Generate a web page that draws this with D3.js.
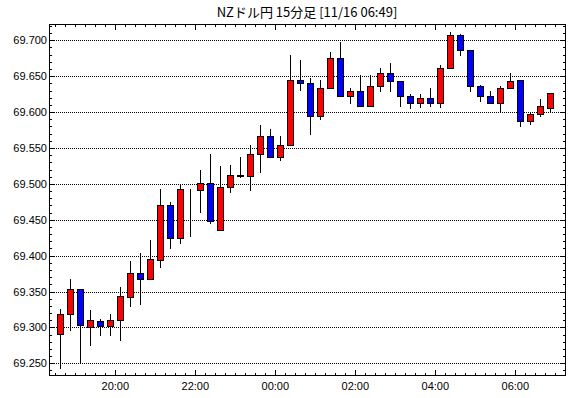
<!DOCTYPE html>
<html>
<head>
<meta charset="utf-8">
<script src="https://cdn.jsdelivr.net/npm/d3@7"></script>
<style>
  body { margin: 0; background: #fff; }
  text { font-family: "Liberation Sans", Arial, sans-serif; }
</style>
</head>
<body>
<div id="vizcontainer"></div>
<script>
const width = 570,
  height = 398;

// 15 min candles, 11/15 18:30 -> 11/16 06:45
const times = [
  "18:30", "18:45", "19:00", "19:15", "19:30", "19:45", "20:00", "20:15", "20:30", "20:45",
  "21:00", "21:15", "21:30", "21:45", "22:00", "22:15", "22:30", "22:45", "23:00", "23:15",
  "23:30", "23:45", "00:00", "00:15", "00:30", "00:45", "01:00", "01:15", "01:30", "01:45",
  "02:00", "02:15", "02:30", "02:45", "03:00", "03:15", "03:30", "03:45", "04:00", "04:15",
  "04:30", "04:45", "05:00", "05:15", "05:30", "05:45", "06:00", "06:15", "06:30", "06:45"
];
const opens = [
  69.291, 69.319, 69.354, 69.301, 69.309, 69.302, 69.310, 69.343, 69.376, 69.367,
  69.394, 69.470, 69.425, 69.492, 69.491, 69.501, 69.436, 69.495, 69.513, 69.511,
  69.541, 69.566, 69.538, 69.554, 69.645, 69.640, 69.594, 69.634, 69.675, 69.622,
  69.629, 69.609, 69.637, 69.655, 69.643, 69.622, 69.612, 69.619, 69.612, 69.661,
  69.708, 69.686, 69.637, 69.623, 69.612, 69.633, 69.645, 69.588, 69.598, 69.605
];
const highs = [
  69.326, 69.367, 69.354, 69.324, 69.312, 69.319, 69.356, 69.393, 69.403, 69.422,
  69.493, 69.475, 69.500, 69.493, 69.519, 69.542, 69.525, 69.526, 69.537, 69.554,
  69.582, 69.577, 69.566, 69.679, 69.672, 69.647, 69.645, 69.684, 69.697, 69.633,
  69.651, 69.651, 69.661, 69.668, 69.643, 69.625, 69.625, 69.634, 69.666, 69.712,
  69.709, 69.686, 69.638, 69.629, 69.637, 69.655, 69.645, 69.600, 69.618, 69.626
];
const lows = [
  69.243, 69.297, 69.251, 69.276, 69.290, 69.290, 69.282, 69.330, 69.333, 69.367,
  69.384, 69.410, 69.417, 69.428, 69.461, 69.445, 69.436, 69.488, 69.510, 69.492,
  69.516, 69.537, 69.533, 69.554, 69.631, 69.570, 69.591, 69.633, 69.622, 69.612,
  69.608, 69.609, 69.630, 69.629, 69.608, 69.605, 69.607, 69.608, 69.607, 69.661,
  69.679, 69.629, 69.615, 69.612, 69.602, 69.633, 69.580, 69.584, 69.594, 69.601
];
const closes = [
  69.319, 69.354, 69.303, 69.310, 69.302, 69.311, 69.344, 69.376, 69.367, 69.395,
  69.470, 69.425, 69.493, 69.492, 69.501, 69.448, 69.495, 69.513, 69.511, 69.541,
  69.566, 69.538, 69.554, 69.645, 69.640, 69.594, 69.634, 69.675, 69.622, 69.629,
  69.609, 69.637, 69.655, 69.643, 69.622, 69.612, 69.619, 69.612, 69.661, 69.708,
  69.687, 69.637, 69.623, 69.612, 69.633, 69.644, 69.587, 69.598, 69.608, 69.626
];
const xLabels = ["20:00", "22:00", "00:00", "02:00", "04:00", "06:00"];
const yLabels = ["69.250", "69.300", "69.350", "69.400", "69.450", "69.500", "69.550", "69.600", "69.650", "69.700"];
const title = "NZドル円 15分足 [11/16 06:49]";

const pLeft = 49, pRight = 565, pTop = 24, pBottom = 375;
const Q = 15 * 60 * 1000;

function toDate(s) {
  const [h, m] = s.split(':').map(Number);
  return new Date(2000, 10, h >= 12 ? 15 : 16, h, m);
}

const data = times.map((t, i) => ({
  t: toDate(t), o: opens[i], h: highs[i], l: lows[i], c: closes[i]
}));

const x = d3.scaleTime()
  .domain([new Date(2000, 10, 15, 18, 20, 33), new Date(2000, 10, 16, 7, 14, 33)])
  .range([pLeft, pRight]);

const y = d3.scaleLinear()
  .domain([69.2333, 69.7223])
  .range([375.3, 24.3]);

const px = v => Math.round(v) + 0.5;

let viz = d3.select('#vizcontainer')
  .append('svg')
  .attr('width', width)
  .attr('height', height)
  .style('display', 'block');

// title
viz.append('text')
  .attr('x', (pLeft + pRight) / 2)
  .attr('y', 17)
  .attr('text-anchor', 'middle')
  .style('font-family', '"Noto Sans CJK JP", sans-serif')
  .style('font-size', '13px')
  .text(title);

// grid
viz.append('g')
  .selectAll('line')
  .data(yLabels)
  .join('line')
  .attr('x1', pLeft + 1)
  .attr('x2', pRight)
  .attr('y1', d => px(y(+d)))
  .attr('y2', d => px(y(+d)))
  .attr('stroke', '#000')
  .attr('stroke-dasharray', '1,1');

// y ticks (left + right, inward)
const yTicks = d3.range(69240, 69721, 10).map(v => v / 1000);
const yt = viz.append('g').attr('stroke', '#000');
yTicks.forEach(v => {
  const major = Math.round(v * 1000) % 50 === 0;
  const len = major ? 5 : 3;
  const yy = px(y(v));
  if (yy < pTop || yy > pBottom) return;
  yt.append('line').attr('x1', pLeft).attr('x2', pLeft + len).attr('y1', yy).attr('y2', yy);
  yt.append('line').attr('x1', pRight + 1).attr('x2', pRight + 1 - len).attr('y1', yy).attr('y2', yy);
});

// x ticks (bottom + top, inward)
const xTicks = d3.timeMinute.every(15).range(x.domain()[0], x.domain()[1]);
const xt = viz.append('g').attr('stroke', '#000');
xTicks.forEach(t => {
  const major = t.getMinutes() === 0 && t.getHours() % 2 === 0;
  const len = major ? 6 : 3;
  const xx = px(x(t));
  xt.append('line').attr('x1', xx).attr('x2', xx).attr('y1', pBottom + 1).attr('y2', pBottom + 1 - len);
  xt.append('line').attr('x1', xx).attr('x2', xx).attr('y1', pTop).attr('y2', pTop + len);
});

// y labels
viz.append('g')
  .selectAll('text')
  .data(yLabels)
  .join('text')
  .attr('x', 47)
  .attr('y', d => y(+d) + 4)
  .attr('text-anchor', 'end')
  .style('font-size', '11px')
  .text(d => d);

// x labels
viz.append('g')
  .selectAll('text')
  .data(xLabels)
  .join('text')
  .attr('x', d => x(toDate(d)))
  .attr('y', 390)
  .attr('text-anchor', 'middle')
  .style('font-size', '11px')
  .text(d => d);

// candles
const cx = d => Math.round(x(new Date(+d.t + Q / 2)));

const candles = viz.append('g')
  .selectAll('g')
  .data(data)
  .join('g');

candles.append('line')
  .attr('x1', d => cx(d) + 0.5)
  .attr('x2', d => cx(d) + 0.5)
  .attr('y1', d => Math.round(y(d.h)))
  .attr('y2', d => Math.round(y(d.l)) + 1)
  .attr('stroke', '#000');

candles.append('rect')
  .attr('x', d => cx(d) - 2.5)
  .attr('width', 6)
  .attr('y', d => px(y(Math.max(d.o, d.c))))
  .attr('height', d => Math.max(0, Math.round(y(Math.min(d.o, d.c))) - Math.round(y(Math.max(d.o, d.c)))))
  .attr('fill', d => d.c > d.o ? '#ff0000' : d.c < d.o ? '#0000ff' : '#000')
  .attr('stroke', '#000')
  .attr('stroke-width', 1);

// frame
viz.append('rect')
  .attr('x', pLeft + 0.5)
  .attr('y', pTop + 0.5)
  .attr('width', pRight - pLeft)
  .attr('height', pBottom - pTop)
  .attr('fill', 'none')
  .attr('stroke', '#000');
</script>
</body>
</html>
